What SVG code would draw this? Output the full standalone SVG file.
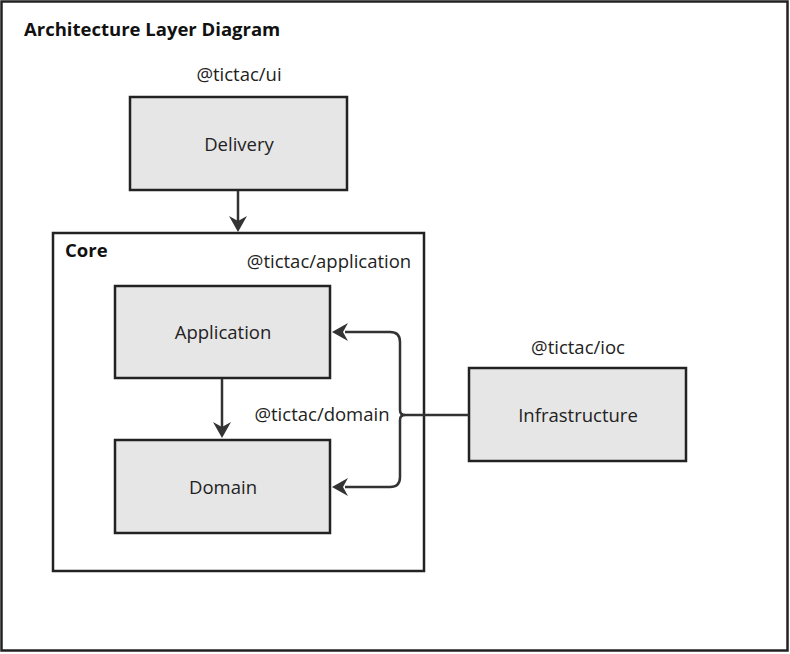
<svg xmlns="http://www.w3.org/2000/svg" width="790" height="654" viewBox="0 0 790 654">
<style>
.box{fill:#e6e6e6;stroke:#222;stroke-width:2.5}
.frame{fill:#fff;stroke:#222;stroke-width:2.5}
.lbl{font-family:"Open Sans","Noto Sans",sans-serif;font-size:18.5px;fill:#222;text-anchor:middle}
.ttl{font-family:"Open Sans","Noto Sans",sans-serif;font-size:18.5px;font-weight:bold;fill:#111}
.conn{fill:none;stroke:#333;stroke-width:2.5}
</style>
<rect x="1.5" y="1.5" width="786" height="649" fill="#fff" stroke="#222" stroke-width="2.5"/>
<text class="ttl" x="24" y="36">Architecture Layer Diagram</text>
<g id="core">
<rect class="frame" x="53" y="233" width="371" height="338"/>
<text class="ttl" x="65" y="257">Core</text>
</g>
<g id="delivery">
<text class="lbl" x="239" y="81">@tictac/ui</text>
<rect class="box" x="130" y="97" width="217" height="93"/>
<text class="lbl" x="239" y="151">Delivery</text>
</g>
<g id="application">
<text class="lbl" x="329" y="268">@tictac/application</text>
<rect class="box" x="115" y="286" width="215" height="92"/>
<text class="lbl" x="223" y="339">Application</text>
</g>
<g id="domain">
<text class="lbl" x="322" y="421">@tictac/domain</text>
<rect class="box" x="115" y="440" width="215" height="93"/>
<text class="lbl" x="223" y="494">Domain</text>
</g>
<g id="infrastructure">
<text class="lbl" x="578" y="354">@tictac/ioc</text>
<rect class="box" x="469" y="368" width="217" height="93"/>
<text class="lbl" x="578" y="422">Infrastructure</text>
</g>
<g id="connectors">
<path class="conn" d="M238,191 V221"/>
<path d="M229,216 L238,232 L247,216 L238,221 Z" fill="#333"/>
<path class="conn" d="M222,379 V427"/>
<path d="M213,422 L222,438 L231,422 L222,427 Z" fill="#333"/>
<path class="conn" d="M469,415 H405"/>
<path class="conn" d="M405,415 Q400,415 400,410 V342 Q400,332 390,332 H345"/>
<path class="conn" d="M405,415 Q400,415 400,420 V477 Q400,487 390,487 H345"/>
<path d="M348,323 L332,332 L348,341 L343,332 Z" fill="#333"/>
<path d="M348,478 L332,487 L348,496 L343,487 Z" fill="#333"/>
</g>
</svg>
